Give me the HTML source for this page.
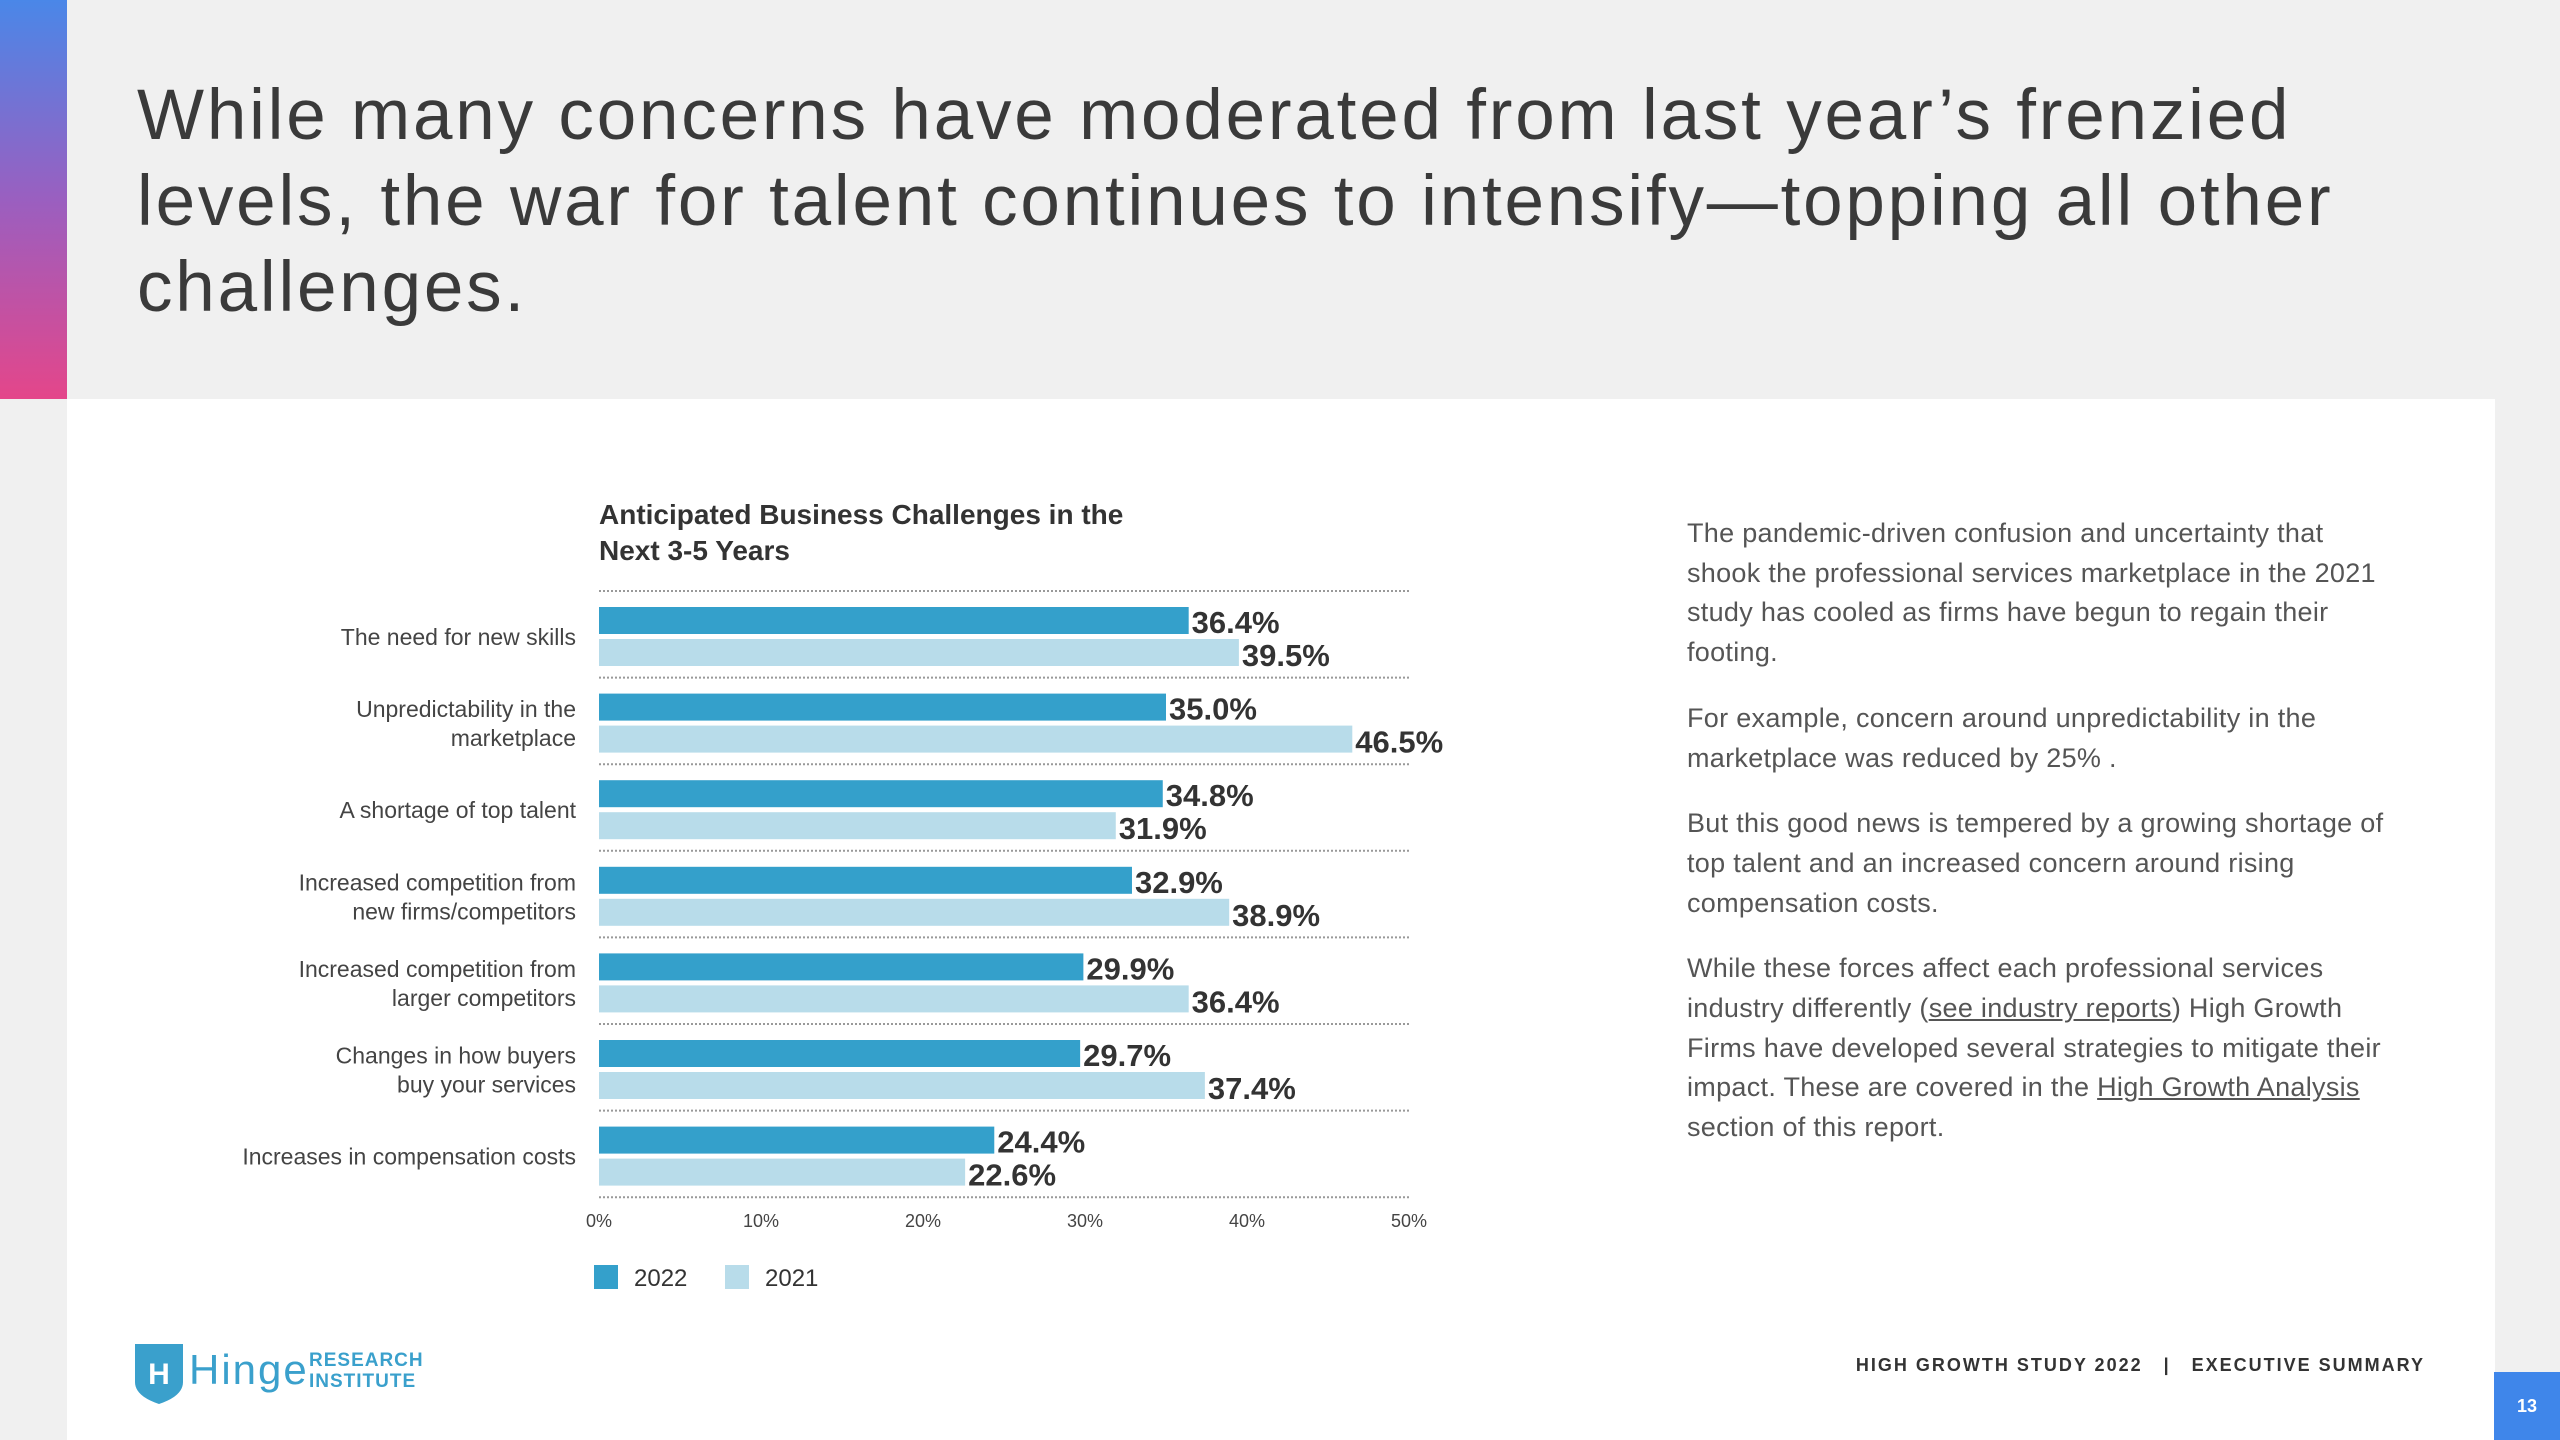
<!DOCTYPE html>
<html><head><meta charset="utf-8">
<style>
body{margin:0;width:2560px;height:1440px;background:#f0f0f0;font-family:"Liberation Sans",sans-serif;position:relative;overflow:hidden}
.abs{position:absolute}
#title{left:137px;top:73px;font-size:71px;line-height:86px;color:#3a3a3a;width:2330px;letter-spacing:2.8px}
#panel{left:67px;top:399px;width:2428px;height:1041px;background:#fff}
#side{left:0;top:0;width:67px;height:399px;background:linear-gradient(#4a87e8,#9a5fc0 50%,#e4468a)}
.p{font-size:27px;line-height:39.7px;color:#555;margin:0 0 26px 0;letter-spacing:0.3px}
.p u{color:#555}
</style></head><body>
<div class="abs" id="side"></div>
<div class="abs" id="title">While many concerns have moderated from last year’s frenzied levels, the war for talent continues to intensify—topping all other challenges.</div>
<div class="abs" id="panel"></div>
<svg class="abs" style="left:0;top:0" width="2560" height="1440" id="chart"></svg>
<div class="abs" style="left:1687px;top:514px;width:712px">
<p class="p">The pandemic-driven confusion and uncertainty that shook the professional services marketplace in the 2021 study has cooled as firms have begun to regain their footing.</p>
<p class="p">For example, concern around unpredictability in the marketplace was reduced by 25% .</p>
<p class="p">But this good news is tempered by a growing shortage of top talent and an increased concern around rising compensation costs.</p>
<p class="p">While these forces affect each professional services industry differently (<u>see industry reports</u>) High Growth Firms have developed several strategies to mitigate their impact. These are covered in the <u>High Growth Analysis</u> section of this report.</p>
</div>
<div class="abs" style="left:131px;top:1340px;width:300px;height:64px">
<svg width="60" height="66" style="position:absolute;left:0;top:0"><path d="M4 4 L52 4 L52 42 Q52 56 28 64 Q4 56 4 42 Z" fill="#3aa0cc"/><text x="28" y="44" font-size="30" font-weight="bold" fill="#fff" text-anchor="middle" font-family="Liberation Sans">H</text></svg>
<span style="position:absolute;left:58px;top:6px;font-size:42px;color:#3aa0cc;letter-spacing:2px">Hinge</span>
<span style="position:absolute;left:178px;top:10px;font-size:19px;font-weight:bold;color:#3aa0cc;line-height:21px;letter-spacing:1px">RESEARCH<br>INSTITUTE</span>
</div>
<div class="abs" style="right:135px;top:1355px;font-size:18px;font-weight:bold;color:#333;letter-spacing:2px">HIGH GROWTH STUDY 2022 &nbsp;&nbsp;|&nbsp;&nbsp; EXECUTIVE SUMMARY</div>
<div class="abs" style="left:2494px;top:1372px;width:66px;height:68px;background:#3f86ea;color:#fff;font-size:18px;font-weight:bold;text-align:center;line-height:68px">13</div>
<script>
const categories=[["The need for new skills"],["Unpredictability in the","marketplace"],["A shortage of top talent"],["Increased competition from","new firms/competitors"],["Increased competition from","larger competitors"],["Changes in how buyers","buy your services"],["Increases in compensation costs"]];
const values2022=[36.4,35.0,34.8,32.9,29.9,29.7,24.4];
const values2021=[39.5,46.5,31.9,38.9,36.4,37.4,22.6];
const ticks=[0,10,20,30,40,50];
const NS="http://www.w3.org/2000/svg";
const svg=document.getElementById('chart');
const x0=599,x1=1409,xmax=50,gy0=591,rowH=86.6;
function xs(v){return x0+(x1-x0)*v/xmax;}
function mk(t,a,txt){const e=document.createElementNS(NS,t);for(const k in a)e.setAttribute(k,a[k]);if(txt!=null)e.textContent=txt;svg.appendChild(e);return e;}
let t=mk('text',{x:599,y:524,'font-size':28,'font-weight':'bold',fill:'#333'});


const t1=document.createElementNS(NS,'tspan');t1.setAttribute('x',599);t1.textContent='Anticipated Business Challenges in the';t.appendChild(t1);
const t2=document.createElementNS(NS,'tspan');t2.setAttribute('x',599);t2.setAttribute('dy',36);t2.textContent='Next 3-5 Years';t.appendChild(t2);
for(let i=0;i<=categories.length;i++){
 const g=mk('line',{x1:x0,x2:x1,y1:gy0+i*rowH,y2:gy0+i*rowH,stroke:'#999','stroke-width':2,'stroke-dasharray':'2,2'});
 
 
}
categories.forEach((c,i)=>{
 const top=gy0+i*rowH;
 const b1=mk('rect',{x:x0,y:top+16,width:xs(values2022[i])-x0,height:27,fill:'#34a0cb'});
 
 
 const b2=mk('rect',{x:x0,y:top+48,width:xs(values2021[i])-x0,height:27,fill:'#b8dcea'});
 
 
 const l1=mk('text',{x:xs(values2022[i])+3,y:top+42,'font-size':31,'font-weight':'bold',fill:'#333'},values2022[i].toFixed(1)+'%');
 
 
 const l2=mk('text',{x:xs(values2021[i])+3,y:top+75,'font-size':31,'font-weight':'bold',fill:'#333'},values2021[i].toFixed(1)+'%');
 
 
 const cy=top+46, n=c.length;
 c.forEach((ln,j)=>{
  const cl=mk('text',{x:576,y:cy+8+(j-(n-1)/2)*29,'font-size':23,fill:'#444','text-anchor':'end'},ln);
  
  
 });
});
ticks.forEach(v=>{
 const tl=mk('text',{x:xs(v),y:1227,'font-size':18,fill:'#444','text-anchor':'middle'},v+'%');
 
 
});
[['2022','#34a0cb',594],['2021','#b8dcea',725]].forEach(([n,c,x])=>{
 const r=mk('rect',{x:x,y:1265,width:24,height:24,fill:c});
 
 
 const lt=mk('text',{x:x+40,y:1286,'font-size':24,fill:'#333'},n);
 
 
});
</script>
</body></html>
